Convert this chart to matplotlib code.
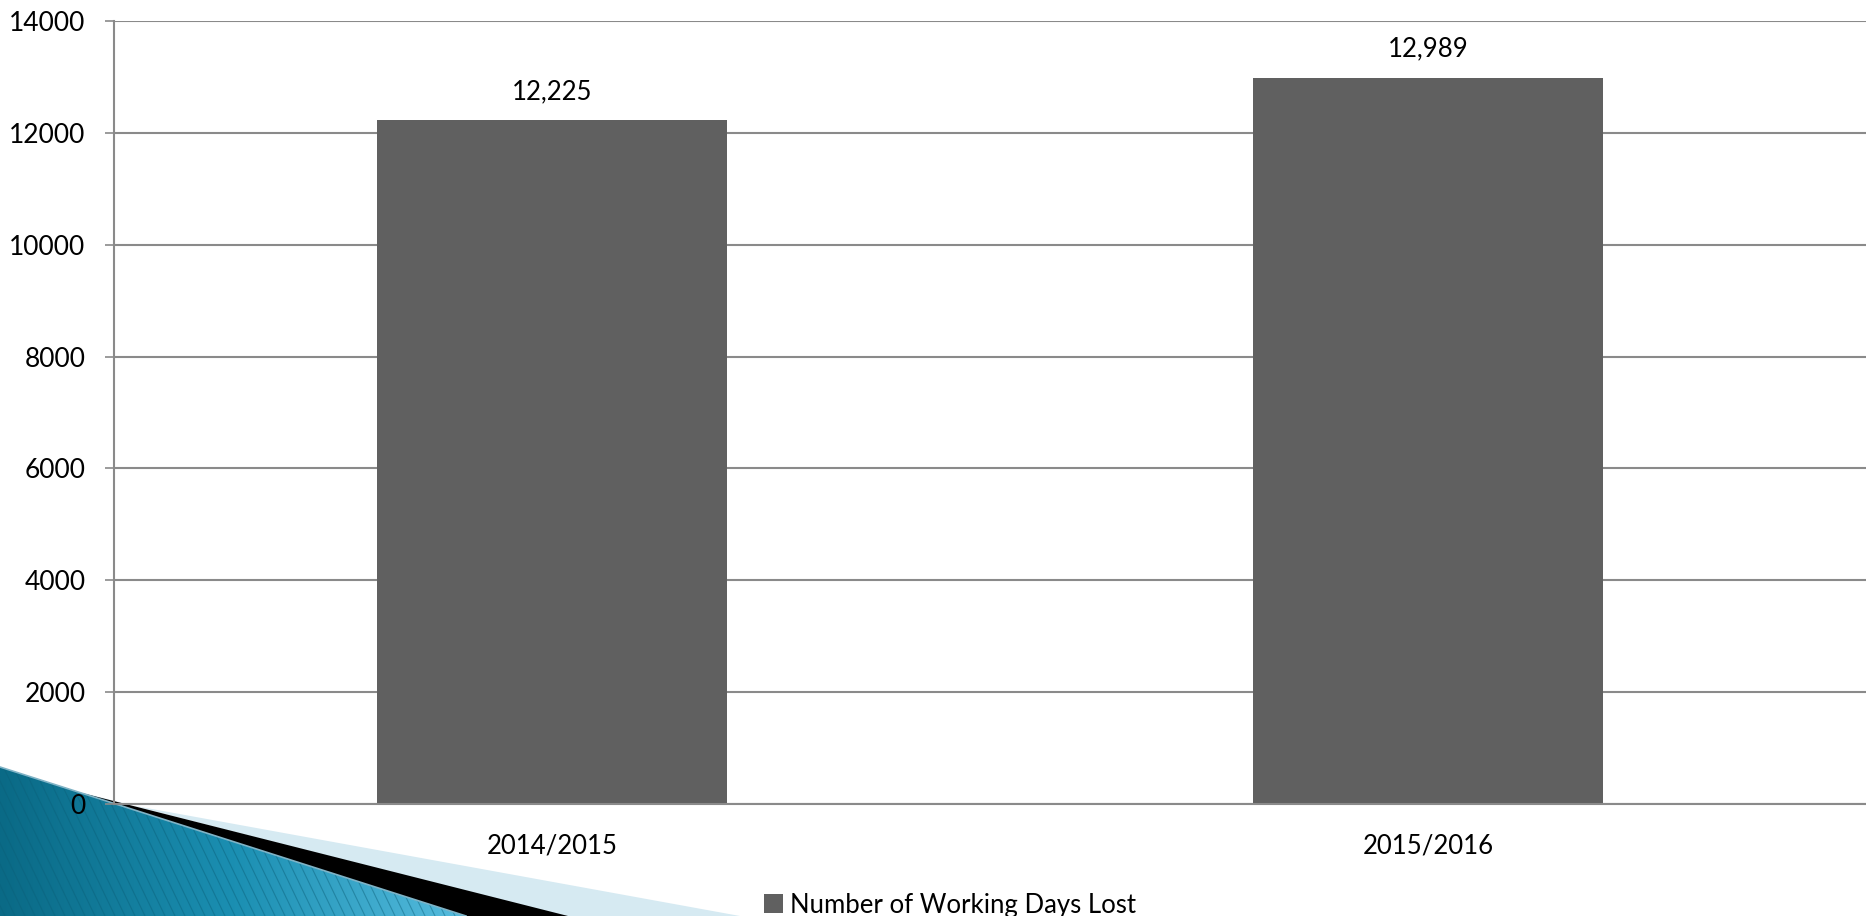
import numpy as np
import matplotlib.pyplot as plt
from matplotlib.patches import Polygon
from matplotlib.colors import LinearSegmentedColormap

# -------------------------------------------------------------------------
# DATA
# -------------------------------------------------------------------------
periods = ["2014/2015", "2015/2016"]
days_lost = [12225, 12989]
series_name = "Number of Working Days Lost"
y_ticks = [0, 2000, 4000, 6000, 8000, 10000, 12000, 14000]

W, H = 1866, 916
BAR = "#606060"
GRID = "#8a8a8a"

plt.rcParams["font.family"] = ["Lato", "DejaVu Sans"]

fig = plt.figure(figsize=(W / 100, H / 100), dpi=100, facecolor="white")

# -------------------------------------------------------------------------
# slide decoration (bottom-left corner), pixel coordinates
# -------------------------------------------------------------------------
bg = fig.add_axes([0, 0, 1, 1], zorder=-1)
bg.set_xlim(0, W)
bg.set_ylim(H, 0)
bg.axis("off")

light = Polygon([(108, 801), (740, H), (560, H), (80, 792)], closed=True,
                facecolor="#d6eaf2", edgecolor="none")
bg.add_patch(light)
black = Polygon([(78, 792), (568, H), (462, H), (0, 767)], closed=True,
                facecolor="black", edgecolor="none")
bg.add_patch(black)

teal_shape = Polygon([(0, 767), (466, H), (0, H)], closed=True,
                     facecolor="none", edgecolor="none")
bg.add_patch(teal_shape)
grad = np.tile(np.linspace(0, 1, 256), (64, 1))
teal_cmap = LinearSegmentedColormap.from_list("teal", ["#0a6a86", "#1b8fb2", "#57bddf"])
im = bg.imshow(grad, cmap=teal_cmap, extent=(0, 470, H, 760), aspect="auto",
               interpolation="bilinear", zorder=1)
im.set_clip_path(teal_shape)
# fine diagonal hatching over the teal wedge
for x0 in np.arange(-120, 480, 10):
    ln, = bg.plot([x0, x0 + 75], [760, H], color="#0b5f78", lw=0.8,
                  alpha=0.45, zorder=2)
    ln.set_clip_path(teal_shape)
bg.plot([0, 466], [767, H], color="#7fb3c6", lw=1.2, zorder=3)

# -------------------------------------------------------------------------
# bar chart
# -------------------------------------------------------------------------
ax = fig.add_axes([114 / W, (H - 804) / H, 1 - 114 / W, (804 - 21) / H], zorder=1)
ax.set_facecolor("none")

x = np.arange(len(periods))
bars = ax.bar(x, days_lost, width=0.4, color=BAR, zorder=2, label=series_name)
for xi, v in zip(x, days_lost):
    ax.annotate(f"{v:,}", (xi, v), xytext=(0, 11.5), textcoords="offset points",
                ha="center", va="bottom", fontsize=18.5, color="black")

ax.set_xlim(-0.5, len(periods) - 0.5)
ax.set_ylim(0, 14000)
ax.set_yticks(y_ticks)
ax.set_xticks(x)
ax.set_xticklabels(periods)
ax.yaxis.grid(True, color=GRID, lw=1.5, zorder=0)
ax.set_axisbelow(True)

for side in ["top", "right"]:
    ax.spines[side].set_visible(False)
for side in ["left", "bottom"]:
    ax.spines[side].set_color(GRID)
    ax.spines[side].set_linewidth(1.5)

ax.tick_params(axis="y", length=6.5, width=1.2, color=GRID, pad=14,
               labelsize=19, labelcolor="black")
ax.tick_params(axis="x", length=0, pad=21, labelsize=18.5, labelcolor="black")

fig.legend(handles=[bars], labels=[series_name], loc="center",
           bbox_to_anchor=(950 / W, (H - 905) / H), frameon=False,
           fontsize=18.5, handlelength=0.75, handleheight=0.75,
           handletextpad=0.3, borderpad=0, borderaxespad=0)

fig.savefig("out.png", dpi=100, facecolor="white")
